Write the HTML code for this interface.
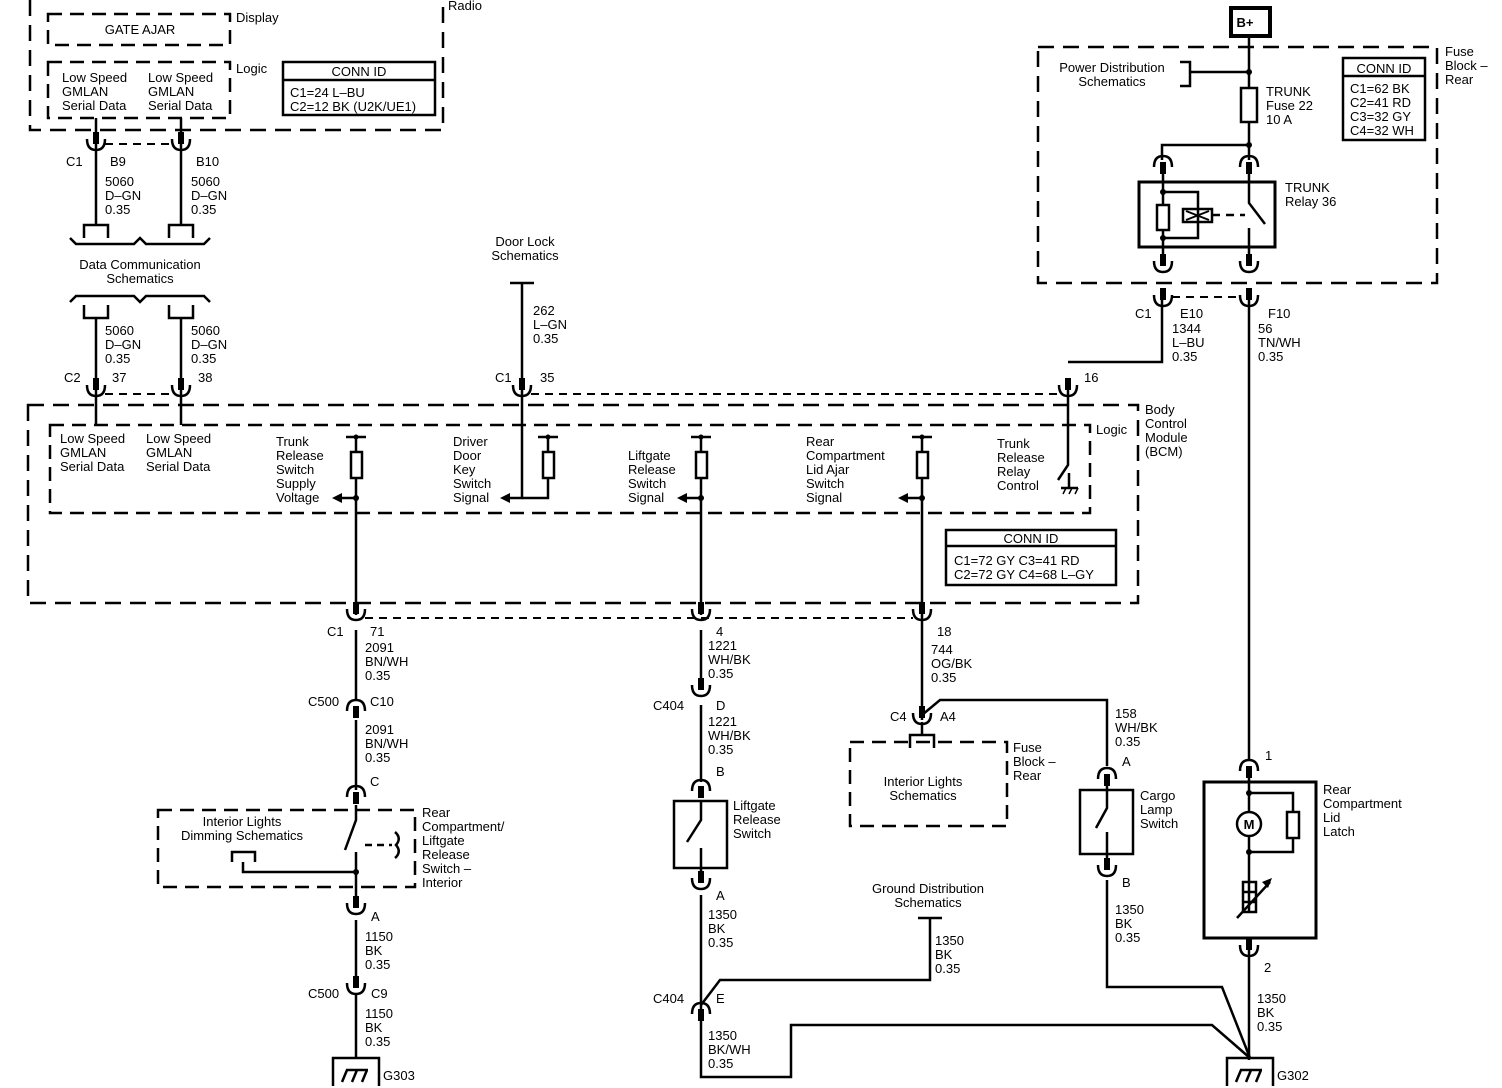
<!DOCTYPE html>
<html><head><meta charset="utf-8"><style>
html,body{margin:0;padding:0;background:#fff}
svg{display:block}
text{font-family:"Liberation Sans",Arial,sans-serif;font-size:13px;fill:#000}
.c{text-anchor:middle}
</style></head><body>
<svg width="1502" height="1088" viewBox="0 0 1502 1088" xmlns="http://www.w3.org/2000/svg">
<defs>
<g id="cd"><rect x="-3" y="-14" width="6" height="12" fill="#000"/><path d="M-9,-7 Q-9,4 0,4 Q9,4 9,-7" fill="none" stroke="#000" stroke-width="2.5"/></g>
<g id="cu"><rect x="-3" y="2" width="6" height="12" fill="#000"/><path d="M-9,7 Q-9,-4 0,-4 Q9,-4 9,7" fill="none" stroke="#000" stroke-width="2.5"/></g>
<g id="gnd" fill="none" stroke="#000" stroke-width="2.5"><path d="M-23,28 V0 H23 V28"/><path d="M-14,24 L-9,12 M-4,24 L1,12 M6,24 L11,12 M-10,12 H12"/></g>
</defs>
<g fill="none" stroke="#000" stroke-width="2.5">
<path d="M30,0 V130 H443 V0" stroke-dasharray="16,9"/>
<rect x="48" y="14" width="182" height="31" stroke-dasharray="14,8"/>
<rect x="48" y="62" width="182" height="56" stroke-dasharray="14,8"/>
<rect x="283" y="62" width="152" height="53"/><path d="M283,80 H435"/>
<path d="M96,118 V225 M181,118 V225"/>
<path d="M105,144 H172" stroke-dasharray="8,6" stroke-width="2"/>
<path d="M84,238 V225 H108 V238 M169,238 V225 H193 V238"/>
<path d="M70,238 L76,244 H134 L140,238 L146,244 H204 L210,238"/>
<path d="M70,302 L76,296 H134 L140,302 L146,296 H204 L210,302"/>
<path d="M84,305 V318 H108 V305 M169,305 V318 H193 V305"/>
<path d="M96,318 V425 M181,318 V425"/>
<path d="M105,394 H172" stroke-dasharray="8,6" stroke-width="2"/>
<path d="M510,283 H534 M522,283 V498 H508"/>
<path d="M531,394 H1059" stroke-dasharray="8,6" stroke-width="2"/>
<rect x="28" y="405" width="1110" height="198" stroke-dasharray="16,9"/>
<rect x="50" y="425" width="1040" height="88" stroke-dasharray="14,8"/>
<rect x="946" y="530" width="170" height="55"/><path d="M946,546 H1116"/>
<path d="M346,437 H366 M356,437 V452 M356,478 V615 M356,498 H340"/>
<rect x="351" y="452" width="11" height="26"/>
<path d="M538,437 H558 M548,437 V452 M548,478 V498 H522"/>
<rect x="543" y="452" width="11" height="26"/>
<path d="M691,437 H711 M701,437 V452 M701,478 V615 M701,498 H685"/>
<rect x="696" y="452" width="11" height="26"/>
<path d="M912,437 H932 M922,437 V452 M922,478 V720 M922,498 H906 M922,722 V735"/>
<rect x="917" y="452" width="11" height="26"/>
<path d="M1068,380 V465 L1058,480 M1068,362 H1162 V300 M1069,473 V488 M1061,488 H1078"/>
<path d="M1063,494 L1066,488 M1069,494 L1072,488 M1075,494 L1078,488" stroke-width="1.5"/>
<path d="M365,618 H913" stroke-dasharray="8,6" stroke-width="2"/>
<rect x="1038" y="47" width="399" height="236" stroke-dasharray="16,9"/>
<rect x="1231" y="8" width="39" height="28" stroke-width="4"/>
<path d="M1249,36 V88 M1249,122 V160 M1249,72 H1190 M1180,62 H1190 V86 H1180 M1249,145 H1162 V160"/>
<rect x="1241" y="88" width="16" height="34"/>
<rect x="1343" y="58" width="82" height="82"/><path d="M1343,76 H1425"/>
<rect x="1139" y="182" width="136" height="65" stroke-width="3"/>
<path d="M1163,170 V205 M1163,230 V262 M1163,192 H1198 V238 H1163 M1249,170 V203 L1265,224 M1249,228 V262"/>
<rect x="1157" y="205" width="12" height="25"/>
<rect x="1183" y="209" width="29" height="13"/>
<path d="M1186,211 L1209,220 M1186,220 L1209,211" stroke-width="2"/>
<path d="M1212,215 H1245" stroke-dasharray="8,6"/>
<path d="M1172,297 H1240" stroke-dasharray="8,6" stroke-width="2"/>
<path d="M1249,300 V760"/>
<rect x="1204" y="782" width="112" height="156" stroke-width="3"/>
<path d="M1249,770 V812 M1249,836 V912 M1249,793 H1293 V812 M1293,838 V852 H1249 M1249,940 V1060"/>
<circle cx="1249" cy="824" r="12"/>
<rect x="1287" y="812" width="12" height="26"/>
<rect x="1243" y="882" width="13" height="30"/>
<path d="M1243,892 H1256 M1243,902 H1256 M1237,918 L1270,882"/>
<rect x="158" y="810" width="257" height="77" stroke-dasharray="14,8"/>
<path d="M356,720 V790 M356,630 V700 M356,805 V820 L345,850 M356,852 V905 M356,920 V980 M356,995 V1058"/>
<path d="M365,845 H392" stroke-dasharray="7,5"/>
<path d="M395,832 Q402,838 396,845 Q402,852 395,858"/>
<path d="M232,862 V852 H255 V862 M243,862 V872 H356"/>
<path d="M701,630 V690 M701,705 V782 M701,800 V820 L687,842 M701,848 V880 M701,895 V1077 H791 V1025 H1212 L1250,1058"/>
<rect x="674" y="801" width="53" height="67"/>
<path d="M701,1005 L720,980 H930 V918 M918,918 H942"/>
<rect x="850" y="742" width="157" height="84" stroke-dasharray="14,8"/>
<path d="M922,715 L940,700 H1107 V766 M910,748 V735 H934 V748"/>
<rect x="1080" y="790" width="53" height="64"/>
<path d="M1107,780 V808 L1096,828 M1107,832 V866 M1107,880 V987 H1222 L1250,1058"/>
</g>
<g>
<use href="#cd" x="96" y="146"/><use href="#cd" x="181" y="146"/>
<use href="#cd" x="96" y="392"/><use href="#cd" x="181" y="392"/>
<use href="#cd" x="522" y="392"/><use href="#cd" x="1068" y="392"/>
<use href="#cd" x="356" y="616"/><use href="#cd" x="701" y="616"/><use href="#cd" x="922" y="616"/>
<use href="#cu" x="1163" y="160"/><use href="#cu" x="1249" y="160"/>
<use href="#cd" x="1163" y="268"/><use href="#cd" x="1249" y="268"/>
<use href="#cd" x="1163" y="302"/><use href="#cd" x="1249" y="302"/>
<use href="#cu" x="356" y="704"/><use href="#cu" x="356" y="790"/>
<use href="#cd" x="356" y="910"/><use href="#cd" x="356" y="990"/>
<use href="#cd" x="701" y="692"/><use href="#cu" x="701" y="784"/>
<use href="#cd" x="701" y="885"/><use href="#cu" x="701" y="1007"/>
<use href="#cd" x="922" y="720"/>
<use href="#cu" x="1107" y="772"/><use href="#cd" x="1107" y="872"/>
<use href="#cu" x="1249" y="764"/><use href="#cd" x="1249" y="952"/>
<use href="#gnd" x="356" y="1058"/><use href="#gnd" x="1250" y="1058"/>
</g>
<g>
<text x="448" y="10">Radio</text>
<text x="140" y="34" class="c">GATE AJAR</text>
<text x="236" y="22">Display</text><text x="236" y="73">Logic</text>
<text x="62" y="82">Low Speed</text><text x="62" y="96">GMLAN</text><text x="62" y="110">Serial Data</text>
<text x="148" y="82">Low Speed</text><text x="148" y="96">GMLAN</text><text x="148" y="110">Serial Data</text>
<text x="359" y="76" class="c">CONN ID</text>
<text x="290" y="97">C1=24 L–BU</text><text x="290" y="111">C2=12 BK (U2K/UE1)</text>
<text x="66" y="166">C1</text><text x="110" y="166">B9</text><text x="196" y="166">B10</text>
<text x="105" y="186">5060</text><text x="105" y="200">D–GN</text><text x="105" y="214">0.35</text>
<text x="191" y="186">5060</text><text x="191" y="200">D–GN</text><text x="191" y="214">0.35</text>
<text x="140" y="269" class="c">Data Communication</text><text x="140" y="283" class="c">Schematics</text>
<text x="105" y="335">5060</text><text x="105" y="349">D–GN</text><text x="105" y="363">0.35</text>
<text x="191" y="335">5060</text><text x="191" y="349">D–GN</text><text x="191" y="363">0.35</text>
<text x="64" y="382">C2</text><text x="112" y="382">37</text><text x="198" y="382">38</text>
<text x="525" y="246" class="c">Door Lock</text><text x="525" y="260" class="c">Schematics</text>
<text x="533" y="315">262</text><text x="533" y="329">L–GN</text><text x="533" y="343">0.35</text>
<text x="495" y="382">C1</text><text x="540" y="382">35</text>
<text x="1084" y="382">16</text>
<text x="1145" y="414">Body</text><text x="1145" y="428">Control</text><text x="1145" y="442">Module</text><text x="1145" y="456">(BCM)</text>
<text x="1096" y="434">Logic</text>
<text x="60" y="443">Low Speed</text><text x="60" y="457">GMLAN</text><text x="60" y="471">Serial Data</text>
<text x="146" y="443">Low Speed</text><text x="146" y="457">GMLAN</text><text x="146" y="471">Serial Data</text>
<text x="276" y="446">Trunk</text><text x="276" y="460">Release</text><text x="276" y="474">Switch</text><text x="276" y="488">Supply</text><text x="276" y="502">Voltage</text>
<text x="453" y="446">Driver</text><text x="453" y="460">Door</text><text x="453" y="474">Key</text><text x="453" y="488">Switch</text><text x="453" y="502">Signal</text>
<text x="628" y="460">Liftgate</text><text x="628" y="474">Release</text><text x="628" y="488">Switch</text><text x="628" y="502">Signal</text>
<text x="806" y="446">Rear</text><text x="806" y="460">Compartment</text><text x="806" y="474">Lid Ajar</text><text x="806" y="488">Switch</text><text x="806" y="502">Signal</text>
<text x="997" y="448">Trunk</text><text x="997" y="462">Release</text><text x="997" y="476">Relay</text><text x="997" y="490">Control</text>
<text x="1031" y="543" class="c">CONN ID</text>
<text x="954" y="565">C1=72 GY  C3=41 RD</text><text x="954" y="579">C2=72 GY  C4=68 L–GY</text>
<text x="1245" y="27" class="c" style="font-weight:bold">B+</text>
<text x="1445" y="56">Fuse</text><text x="1445" y="70">Block –</text><text x="1445" y="84">Rear</text>
<text x="1112" y="72" class="c">Power Distribution</text><text x="1112" y="86" class="c">Schematics</text>
<text x="1266" y="96">TRUNK</text><text x="1266" y="110">Fuse 22</text><text x="1266" y="124">10 A</text>
<text x="1384" y="73" class="c">CONN ID</text>
<text x="1350" y="93">C1=62 BK</text><text x="1350" y="107">C2=41 RD</text><text x="1350" y="121">C3=32 GY</text><text x="1350" y="135">C4=32 WH</text>
<text x="1285" y="192">TRUNK</text><text x="1285" y="206">Relay 36</text>
<text x="1135" y="318">C1</text><text x="1180" y="318">E10</text><text x="1268" y="318">F10</text>
<text x="1172" y="333">1344</text><text x="1172" y="347">L–BU</text><text x="1172" y="361">0.35</text>
<text x="1258" y="333">56</text><text x="1258" y="347">TN/WH</text><text x="1258" y="361">0.35</text>
<text x="327" y="636">C1</text><text x="370" y="636">71</text><text x="716" y="636">4</text><text x="937" y="636">18</text>
<text x="365" y="652">2091</text><text x="365" y="666">BN/WH</text><text x="365" y="680">0.35</text>
<text x="308" y="706">C500</text><text x="370" y="706">C10</text>
<text x="365" y="734">2091</text><text x="365" y="748">BN/WH</text><text x="365" y="762">0.35</text>
<text x="370" y="786">C</text>
<text x="242" y="826" class="c">Interior Lights</text><text x="242" y="840" class="c">Dimming Schematics</text>
<text x="422" y="817">Rear</text><text x="422" y="831">Compartment/</text><text x="422" y="845">Liftgate</text><text x="422" y="859">Release</text><text x="422" y="873">Switch –</text><text x="422" y="887">Interior</text>
<text x="371" y="921">A</text>
<text x="365" y="941">1150</text><text x="365" y="955">BK</text><text x="365" y="969">0.35</text>
<text x="308" y="998">C500</text><text x="371" y="998">C9</text>
<text x="365" y="1018">1150</text><text x="365" y="1032">BK</text><text x="365" y="1046">0.35</text>
<text x="383" y="1080">G303</text>
<text x="708" y="650">1221</text><text x="708" y="664">WH/BK</text><text x="708" y="678">0.35</text>
<text x="653" y="710">C404</text><text x="716" y="710">D</text>
<text x="708" y="726">1221</text><text x="708" y="740">WH/BK</text><text x="708" y="754">0.35</text>
<text x="716" y="776">B</text>
<text x="733" y="810">Liftgate</text><text x="733" y="824">Release</text><text x="733" y="838">Switch</text>
<text x="716" y="900">A</text>
<text x="708" y="919">1350</text><text x="708" y="933">BK</text><text x="708" y="947">0.35</text>
<text x="653" y="1003">C404</text><text x="716" y="1003">E</text>
<text x="708" y="1040">1350</text><text x="708" y="1054">BK/WH</text><text x="708" y="1068">0.35</text>
<text x="928" y="893" class="c">Ground Distribution</text><text x="928" y="907" class="c">Schematics</text>
<text x="935" y="945">1350</text><text x="935" y="959">BK</text><text x="935" y="973">0.35</text>
<text x="931" y="654">744</text><text x="931" y="668">OG/BK</text><text x="931" y="682">0.35</text>
<text x="890" y="721">C4</text><text x="940" y="721">A4</text>
<text x="923" y="786" class="c">Interior Lights</text><text x="923" y="800" class="c">Schematics</text>
<text x="1013" y="752">Fuse</text><text x="1013" y="766">Block –</text><text x="1013" y="780">Rear</text>
<text x="1115" y="718">158</text><text x="1115" y="732">WH/BK</text><text x="1115" y="746">0.35</text>
<text x="1122" y="766">A</text>
<text x="1140" y="800">Cargo</text><text x="1140" y="814">Lamp</text><text x="1140" y="828">Switch</text>
<text x="1122" y="887">B</text>
<text x="1115" y="914">1350</text><text x="1115" y="928">BK</text><text x="1115" y="942">0.35</text>
<text x="1265" y="760">1</text>
<text x="1249" y="829" class="c" style="font-weight:bold">M</text>
<text x="1323" y="794">Rear</text><text x="1323" y="808">Compartment</text><text x="1323" y="822">Lid</text><text x="1323" y="836">Latch</text>
<text x="1264" y="972">2</text>
<text x="1257" y="1003">1350</text><text x="1257" y="1017">BK</text><text x="1257" y="1031">0.35</text>
<text x="1277" y="1080">G302</text>
</g>
<g fill="#000">
<circle cx="1249" cy="72" r="3"/><circle cx="1249" cy="145" r="3"/>
<circle cx="1163" cy="192" r="3"/><circle cx="1163" cy="238" r="3"/>
<circle cx="1249" cy="793" r="3"/><circle cx="1249" cy="852" r="3"/>
<circle cx="356" cy="872" r="3"/>
<circle cx="356" cy="498" r="3"/><circle cx="701" cy="498" r="3"/><circle cx="922" cy="498" r="3"/>
<circle cx="356" cy="437" r="2.5"/><circle cx="548" cy="437" r="2.5"/><circle cx="701" cy="437" r="2.5"/><circle cx="922" cy="437" r="2.5"/>
<path d="M332,498 L342,493 V503 Z"/><path d="M500,498 L510,493 V503 Z"/>
<path d="M677,498 L687,493 V503 Z"/><path d="M898,498 L908,493 V503 Z"/>
<path d="M1272,878 L1262,882 L1268,888 Z"/>
</g>
</svg>
</body></html>
